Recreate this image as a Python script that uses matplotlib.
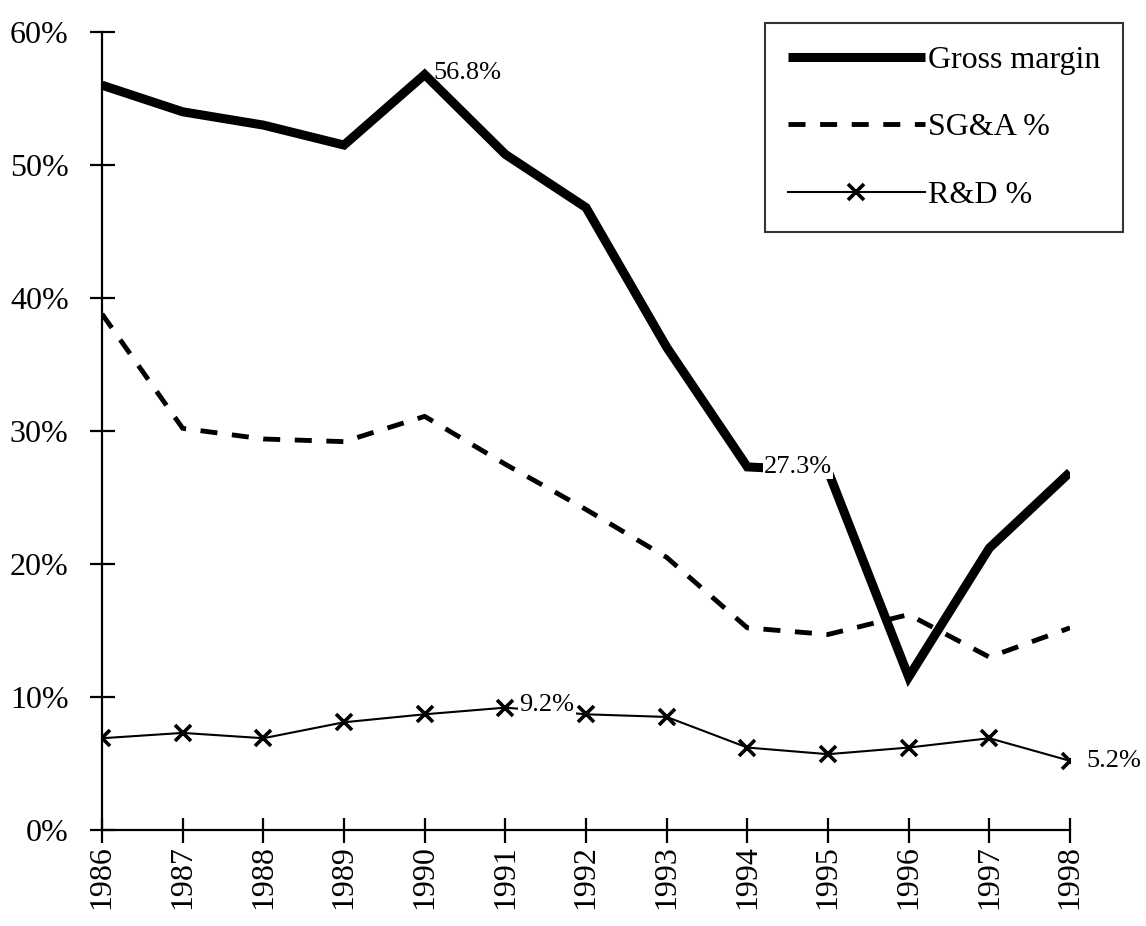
import matplotlib
matplotlib.use("Agg")
import matplotlib.pyplot as plt
import matplotlib.ticker as mticker

plt.rcParams['font.family'] = ['Liberation Serif', 'DejaVu Serif']
plt.rcParams['font.size'] = 23

years = [1986, 1987, 1988, 1989, 1990, 1991, 1992, 1993, 1994, 1995, 1996, 1997, 1998]
gross_margin = [56.0, 54.0, 53.0, 51.5, 56.8, 50.8, 46.8, 36.3, 27.3, 27.0, 11.5, 21.2, 26.9]
sga = [38.8, 30.2, 29.4, 29.2, 31.1, 27.5, 24.1, 20.5, 15.2, 14.7, 16.2, 13.0, 15.2]
rnd = [6.9, 7.3, 6.9, 8.1, 8.7, 9.2, 8.7, 8.5, 6.2, 5.7, 6.2, 6.9, 5.2]

fig = plt.figure(figsize=(11.46, 9.26), dpi=100)
ax = fig.add_axes([102 / 1146, 1 - 830 / 926, 968 / 1146, 798 / 926])

ax.plot(years, gross_margin, color='black', lw=6.5, solid_joinstyle='miter',
        solid_capstyle='butt', label='Gross margin', zorder=3)
ax.plot(years, sga, color='black', lw=3.5, dashes=(3.5, 3), dash_capstyle='butt',
        label='SG&A %', zorder=3)
ax.plot(years, rnd, color='black', lw=1.5, marker='x', markersize=12, mew=2.6,
        label='R&D %', zorder=3)

# value labels, white box hides the line under the text
ax.annotate(f"{gross_margin[4]}%", (years[4], gross_margin[4]), xytext=(6, 1),
            textcoords='offset points', fontsize=19, va='center', ha='left', zorder=5)
ax.annotate(f"{gross_margin[8]}%", (years[8], gross_margin[8]), xytext=(12, 0),
            textcoords='offset points', fontsize=19, va='center', ha='left', zorder=5,
            bbox=dict(facecolor='white', edgecolor='none', pad=1))
ax.annotate(f"{rnd[5]}%", (years[5], rnd[5]), xytext=(10, 2),
            textcoords='offset points', fontsize=19, va='center', ha='left', zorder=5,
            bbox=dict(facecolor='white', edgecolor='none', pad=1))
ax.annotate(f"{rnd[12]}%", (years[12], rnd[12]), xytext=(12, 0),
            textcoords='offset points', fontsize=19, va='center', ha='left', zorder=5)

ax.set_xlim(1986, 1998)
ax.set_ylim(0, 60)
ax.set_xticks(years)
ax.set_xticklabels([str(y) for y in years], rotation=90)
ax.set_yticks(range(0, 61, 10))
ax.yaxis.set_major_formatter(mticker.FuncFormatter(lambda v, p: f"{int(v)}%"))

for s in ['top', 'right']:
    ax.spines[s].set_visible(False)
for s in ['left', 'bottom']:
    ax.spines[s].set_linewidth(1.6)
ax.tick_params(axis='both', direction='inout', length=18, width=1.6, labelsize=23)
ax.tick_params(axis='y', pad=15)
ax.tick_params(axis='x', pad=2)

leg = ax.legend(loc='upper right', bbox_to_anchor=(1123 / 1146, 1 - 23 / 926),
                bbox_transform=fig.transFigure, frameon=True, fancybox=False,
                handlelength=4.3, handletextpad=0.1, labelspacing=1.2,
                borderpad=0.7, borderaxespad=0, numpoints=1, fontsize=23)
leg.get_frame().set_edgecolor('black')
leg.get_frame().set_linewidth(1.5)

fig.savefig("out.png", dpi=100, facecolor='white')
